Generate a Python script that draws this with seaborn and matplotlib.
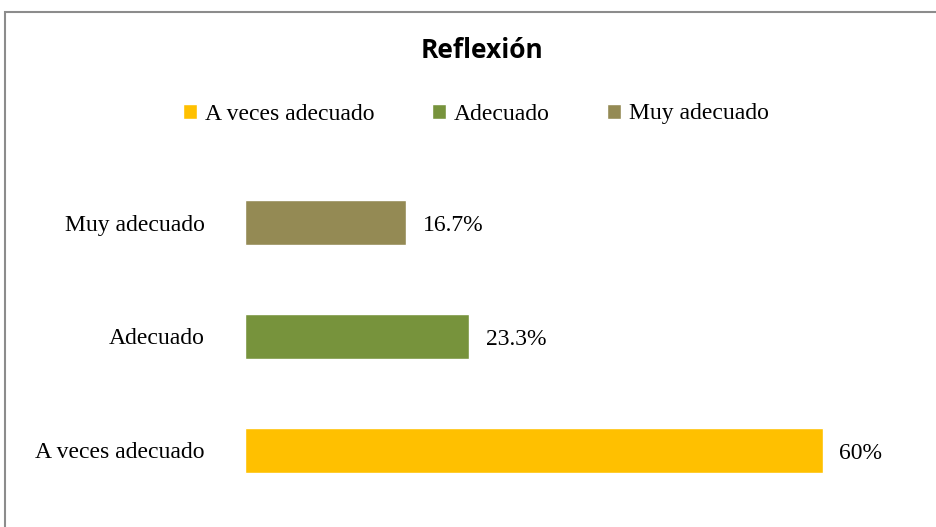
import matplotlib
matplotlib.use("Agg")
import matplotlib.pyplot as plt
from matplotlib.patches import Patch, Rectangle
import pandas as pd
import seaborn as sns

# =====================================
# Data
# =====================================

categories = ["Muy adecuado", "Adecuado", "A veces adecuado"]
values = [16.7, 23.3, 60]
value_labels = ["16.7%", "23.3%", "60%"]
legend_order = ["A veces adecuado", "Adecuado", "Muy adecuado"]

colors = {
    "A veces adecuado": "#FFC000",
    "Adecuado": "#77933C",
    "Muy adecuado": "#948A54",
}

df = pd.DataFrame({"Categoria": categories, "Porcentaje": values})

# =====================================
# Plot
# =====================================

sns.set_style("white")
serif = ["Liberation Serif", "DejaVu Serif"]

fig = plt.figure(figsize=(9.36, 5.27), dpi=100)
ax = fig.add_axes([245 / 936, 19.5 / 527, 674 / 936, 342 / 527])

sns.barplot(
    data=df,
    y="Categoria",
    x="Porcentaje",
    hue="Categoria",
    order=categories,
    hue_order=categories,
    palette=colors,
    saturation=1,
    width=0.39,
    legend=False,
    ax=ax,
)

ax.set_xlim(0, 70)
ax.set_ylim(2.5, -0.5)
ax.set_xlabel("")
ax.set_ylabel("")
ax.set_xticks([])
for s in ax.spines.values():
    s.set_visible(False)
ax.tick_params(axis="y", length=0, pad=29)
for lbl in ax.get_yticklabels():
    lbl.set_fontfamily(serif)
    lbl.set_fontsize(17)
    lbl.set_color("black")

for i, (v, t) in enumerate(zip(values, value_labels)):
    ax.annotate(t, (v, i), xytext=(12, -2), textcoords="offset points",
                va="center", ha="left", fontsize=17, family=serif, color="black")

fig.text(482 / 936, 1 - 51 / 527, "Reflexión", ha="center", va="center",
         fontsize=19, fontweight="bold", color="black",
         family=["Open Sans", "DejaVu Sans"])

handles = [Patch(facecolor=colors[c], label=c) for c in legend_order]
leg = fig.legend(handles=handles, loc="center", bbox_to_anchor=(476 / 936, 1 - 114 / 527),
                 ncol=3, frameon=False, handlelength=0.6, handleheight=0.6,
                 handletextpad=0.35, columnspacing=2.4, prop={"family": serif, "size": 17})
for t in leg.get_texts():
    t.set_color("black")

# chart border (cropped on right and bottom)
fig.patches.append(Rectangle((5 / 936, -0.1), 1.2, 1 - 12 / 527 + 0.1,
                             transform=fig.transFigure, fill=False,
                             edgecolor="#8C8C8C", linewidth=1.5))

fig.savefig("out.png", dpi=100)
